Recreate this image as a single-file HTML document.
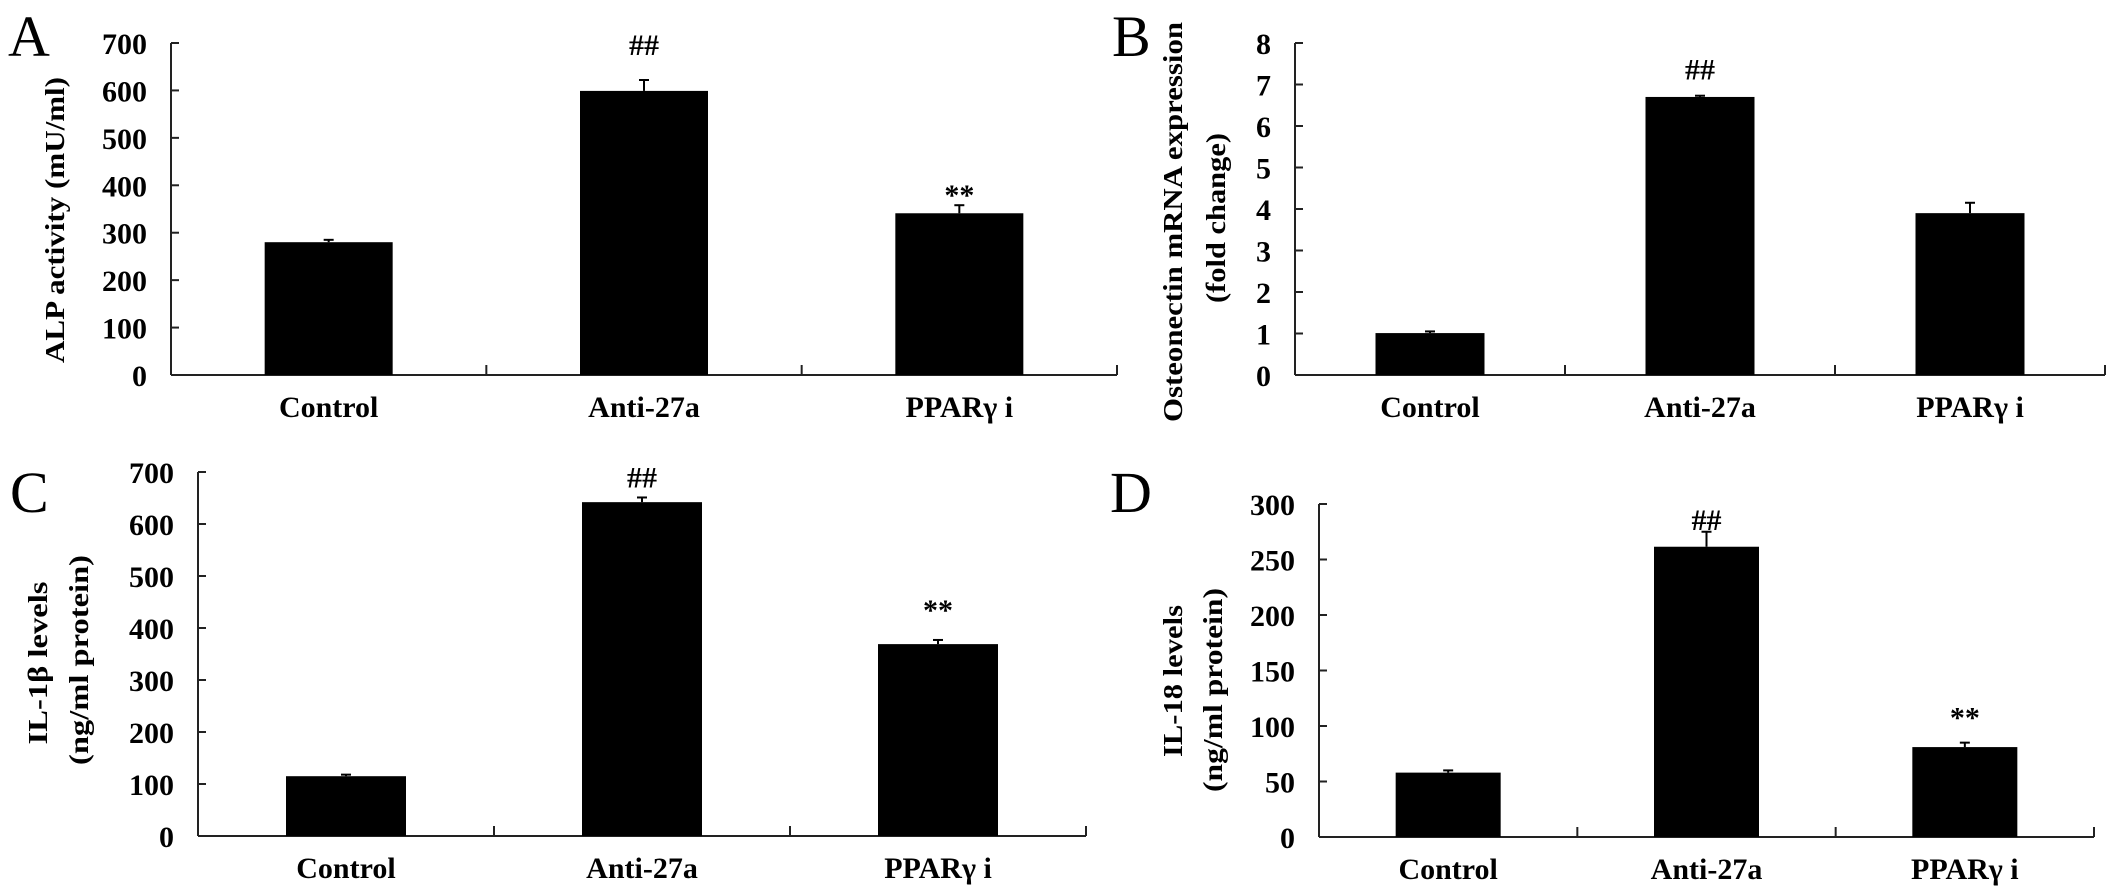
<!DOCTYPE html>
<html><head><meta charset="utf-8"><style>
html,body{margin:0;padding:0;background:#fff;width:2126px;height:895px;overflow:hidden}
svg{display:block}
.tk{font-family:"Liberation Serif",serif;font-weight:bold;font-size:30px;fill:#000}
.ttl{font-family:"Liberation Serif",serif;font-weight:bold;font-size:27px;fill:#000}
.pl{font-family:"Liberation Serif",serif;font-size:58px;fill:#000}
</style></head><body>
<svg id="chart" width="2126" height="895" xmlns="http://www.w3.org/2000/svg"></svg>
<script>
const categories = ["Control","Anti-27a","PPARγ i"];
const valuesA = [280, 599, 341];
const errorsA = [285, 622, 358];
const marksA = ["", "##", "**"];
const ticksA = [0,100,200,300,400,500,600,700];
const valuesB = [1.01, 6.7, 3.9];
const errorsB = [1.05, 6.73, 4.15];
const marksB = ["", "##", ""];
const ticksB = [0,1,2,3,4,5,6,7,8];
const valuesC = [115, 642, 369];
const errorsC = [118, 651, 377];
const marksC = ["", "##", "**"];
const ticksC = [0,100,200,300,400,500,600,700];
const valuesD = [58, 261.5, 81];
const errorsD = [60, 275, 85];
const marksD = ["", "##", "**"];
const ticksD = [0,50,100,150,200,250,300];

const NS = "http://www.w3.org/2000/svg";
const svg = document.getElementById("chart");
function mk(tag, attrs, parent){const e=document.createElementNS(NS,tag);for(const k in attrs)e.setAttribute(k,attrs[k]);(parent||svg).appendChild(e);return e;}

const panels = [
 {id:"a",letter:"A",lx:8,ly:56,x0:171,x1:1117,yTop:43,yZero:375,barW:128,vals:valuesA,errs:errorsA,marks:marksA,ticks:ticksA,gaps:[0,35,16],
  titles:["ALP activity (mU/ml)"],tx:[54],tcy:[220],tlen:[286]},
 {id:"b",letter:"B",lx:1112,ly:56,x0:1295,x1:2105,yTop:43,yZero:375,barW:109,vals:valuesB,errs:errorsB,marks:marksB,ticks:ticksB,gaps:[0,26,0],
  titles:["Osteonectin mRNA expression","(fold change)"],tx:[1172,1215],tcy:[222,218],tlen:[400,170]},
 {id:"c",letter:"C",lx:10,ly:512,x0:198,x1:1086,yTop:472,yZero:836,barW:120,vals:valuesC,errs:errorsC,marks:marksC,ticks:ticksC,gaps:[0,20,36],
  titles:["IL-1β levels","(ng/ml protein)"],tx:[37,78],tcy:[663,660],tlen:[163,210]},
 {id:"d",letter:"D",lx:1110,ly:512,x0:1319,x1:2094,yTop:504,yZero:837,barW:105,vals:valuesD,errs:errorsD,marks:marksD,ticks:ticksD,gaps:[0,12,31],
  titles:["IL-18 levels","(ng/ml protein)"],tx:[1172,1212],tcy:[681,690],tlen:[152,204]}
];

panels.forEach(p=>{
  const g = mk("g",{});
  
  
  const tmax = p.ticks[p.ticks.length-1];
  const y = v => p.yZero - v/tmax*(p.yZero-p.yTop);
  const cw = (p.x1-p.x0)/categories.length;
  const xc = i => p.x0 + cw*(i+0.5);

  const L = mk("text",{x:p.lx,y:p.ly,class:"pl"},g); L.textContent=p.letter;
  
  

  const ya = mk("line",{x1:p.x0,y1:p.yTop,x2:p.x0,y2:p.yZero,stroke:"#222","stroke-width":2},g);
  
  
  const xa = mk("line",{x1:p.x0,y1:p.yZero,x2:p.x1,y2:p.yZero,stroke:"#222","stroke-width":2},g);
  
  

  p.ticks.forEach(t=>{
    mk("line",{x1:p.x0,y1:y(t),x2:p.x0+8,y2:y(t),stroke:"#222","stroke-width":2},g);
    const tl = mk("text",{x:p.x0-24,y:y(t)+11,class:"tk","text-anchor":"end"},g);
    tl.textContent = t;
    
    
  });
  for(let i=1;i<=categories.length;i++){
    const xx = p.x0+cw*i;
    mk("line",{x1:xx,y1:p.yZero,x2:xx,y2:p.yZero-10,stroke:"#222","stroke-width":2},g);
  }
  categories.forEach((c,i)=>{
    const top = y(p.vals[i]), et = y(p.errs[i]);
    const b = mk("rect",{x:xc(i)-p.barW/2,y:top,width:p.barW,height:p.yZero-top,fill:"#000"},g);
    
    
    const e1 = mk("line",{x1:xc(i),y1:top,x2:xc(i),y2:et,stroke:"#000","stroke-width":2},g);
    
    
    mk("line",{x1:xc(i)-5,y1:et,x2:xc(i)+5,y2:et,stroke:"#000","stroke-width":2},g);
    if(p.marks[i]){
      const base = et - p.gaps[i] + (p.marks[i]==="**" ? 16 : 10);
      const m = mk("text",{x:xc(i),y:base,class:"tk","text-anchor":"middle"},g);
      m.textContent = p.marks[i];
      
      
    }
    const cl = mk("text",{x:xc(i),y:p.yZero+42,class:"tk","text-anchor":"middle"},g);
    cl.textContent = c;
    
    
  });
  p.titles.forEach((t,k)=>{
    const tt = mk("text",{x:0,y:0,class:"ttl","text-anchor":"middle",transform:`translate(${p.tx[k]+10},${p.tcy[k]}) rotate(-90)`},g);
    tt.setAttribute("textLength",p.tlen[k]);
    tt.setAttribute("lengthAdjust","spacingAndGlyphs");
    tt.textContent = t;
    
    
  });
});
</script>
</body></html>
